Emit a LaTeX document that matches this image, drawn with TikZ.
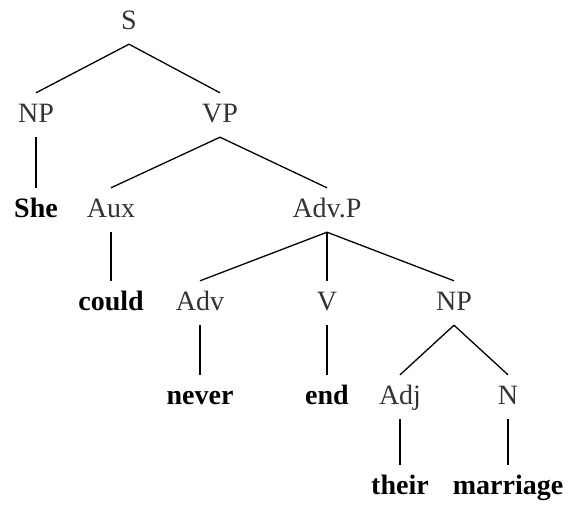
\documentclass[tikz,border=0pt]{standalone}
\usepackage{fontspec}
\setmainfont{Liberation Serif}
\usetikzlibrary{positioning}

\begin{document}
\begin{tikzpicture}[x=1pt, y=-1pt,
    every node/.style={font=\fontsize{28}{32}\selectfont, text height=20pt,
      text depth=6pt, inner xsep=2pt, inner ysep=9pt},
    cat/.style={text=black!80},
    word/.style={font=\fontsize{28}{32}\selectfont\bfseries},
    branch/.style={line width=1.3pt}]
  \useasboundingbox (0,0) rectangle (569,504);

  \node[cat] (S)   at (129,22)  {S};

  \node[cat] (NPa) at (36,115)  {NP};
  \node[cat] (VP)  at (220,115) {VP};

  \node[word] (She)  at (36,210)  {She};
  \node[cat]  (Aux)  at (111,210) {Aux};
  \node[cat]  (AdvP) at (327,210) {Adv.P};

  \node[word] (Could) at (111,303) {could};
  \node[cat]  (Adv)   at (200,303) {Adv};
  \node[cat]  (V)     at (327,303) {V};
  \node[cat]  (NPb)   at (454,303) {NP};

  \node[word] (Never) at (200,397) {never};
  \node[word] (End)   at (327,397) {end};
  \node[cat]  (Adj)   at (400,397) {Adj};
  \node[cat]  (N)     at (508,397) {N};

  \node[word] (Their)    at (400,487) {their};
  \node[word] (Marriage) at (508,487) {marriage};

  \foreach \a/\b in {S/NPa, S/VP, NPa/She, VP/Aux, VP/AdvP, Aux/Could,
      AdvP/Adv, AdvP/V, AdvP/NPb, Adv/Never, V/End, NPb/Adj, NPb/N,
      Adj/Their, N/Marriage}{%
    \draw[branch] (\a.south) -- (\b.north);
  }
\end{tikzpicture}
\end{document}
